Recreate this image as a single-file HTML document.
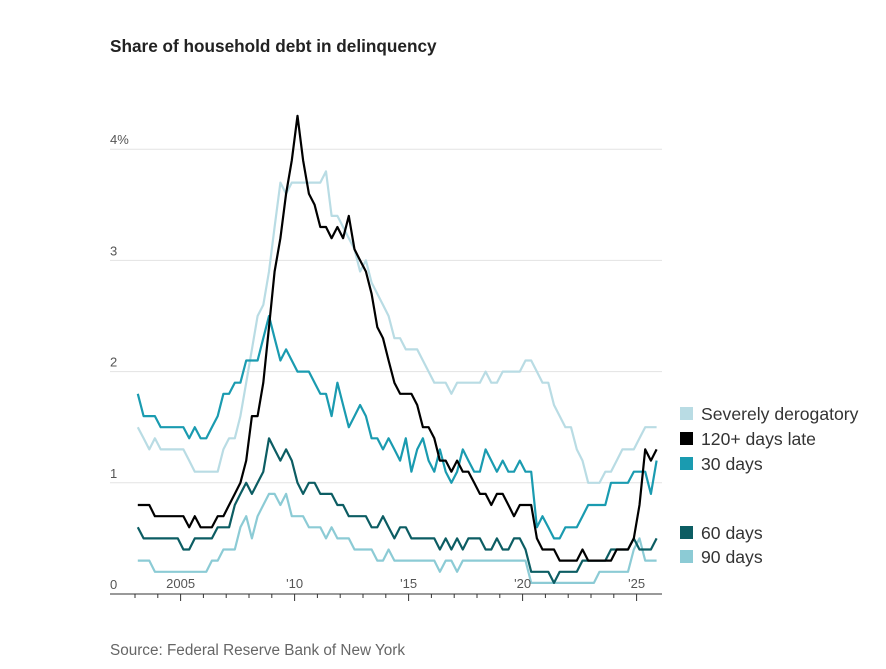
<!DOCTYPE html>
<html><head><meta charset="utf-8"><style>
body{margin:0;background:#fff;font-family:"Liberation Sans",sans-serif}
</style></head><body>
<svg width="886" height="664" xmlns="http://www.w3.org/2000/svg">
<text x="110" y="52" font-size="17.2" font-weight="bold" fill="#222">Share of household debt in delinquency</text>
<g id="grid"></g><g id="series"></g><g id="xaxis"></g>
<g font-size="17.6" fill="#333">
<rect x="680" y="407" width="13" height="13" fill="#b9dce4"/><text x="701" y="420">Severely derogatory</text>
<rect x="680" y="432" width="13" height="13" fill="#000"/><text x="701" y="445">120+ days late</text>
<rect x="680" y="457" width="13" height="13" fill="#1a9bb0"/><text x="701" y="470">30 days</text>
<rect x="680" y="526" width="13" height="13" fill="#0c5d63"/><text x="701" y="539">60 days</text>
<rect x="680" y="550" width="13" height="13" fill="#8ccbd5"/><text x="701" y="563">90 days</text>
</g>
<text x="110" y="655" font-size="15.3" fill="#666">Source: Federal Reserve Bank of New York</text>
</svg>
<script>
const startYear = 2003;
const yTicks = [0,1,2,3,4];
const yTickLabels = ["0","1","2","3","4%"];
const xTickYears = [2005,2010,2015,2020,2025];
const xTickLabels = ["2005","'10","'15","'20","'25"];
const severe = [1.5,1.4,1.3,1.4, 1.3,1.3,1.3,1.3, 1.3,1.2,1.1,1.1, 1.1,1.1,1.1,1.3, 1.4,1.4,1.6,1.9, 2.2,2.5,2.6,2.9, 3.3,3.7,3.6,3.7, 3.7,3.7,3.7,3.7, 3.7,3.8,3.4,3.4, 3.3,3.2,3.1,2.9, 3.0,2.8,2.7,2.6, 2.5,2.3,2.3,2.2, 2.2,2.2,2.1,2.0, 1.9,1.9,1.9,1.8, 1.9,1.9,1.9,1.9, 1.9,2.0,1.9,1.9, 2.0,2.0,2.0,2.0, 2.1,2.1,2.0,1.9, 1.9,1.7,1.6,1.5, 1.5,1.3,1.2,1.0, 1.0,1.0,1.1,1.1, 1.2,1.3,1.3,1.3, 1.4,1.5,1.5,1.5];
const late120 = [.8,.8,.8,.7, .7,.7,.7,.7, .7,.6,.7,.6, .6,.6,.7,.7, .8,.9,1.0,1.2, 1.6,1.6,1.9,2.4, 2.9,3.2,3.6,3.9, 4.3,3.9,3.6,3.5, 3.3,3.3,3.2,3.3, 3.2,3.4,3.1,3.0, 2.9,2.7,2.4,2.3, 2.1,1.9,1.8,1.8, 1.8,1.7,1.5,1.5, 1.4,1.2,1.2,1.1, 1.2,1.1,1.1,1.0, .9,.9,.8,.9, .9,.8,.7,.8, .8,.8,.5,.4, .4,.4,.3,.3, .3,.3,.4,.3, .3,.3,.3,.3, .4,.4,.4,.5, .8,1.3,1.2,1.3];
const days30 = [1.8,1.6,1.6,1.6, 1.5,1.5,1.5,1.5, 1.5,1.4,1.5,1.4, 1.4,1.5,1.6,1.8, 1.8,1.9,1.9,2.1, 2.1,2.1,2.3,2.5, 2.3,2.1,2.2,2.1, 2.0,2.0,2.0,1.9, 1.8,1.8,1.6,1.9, 1.7,1.5,1.6,1.7, 1.6,1.4,1.4,1.3, 1.4,1.3,1.2,1.4, 1.1,1.3,1.4,1.2, 1.1,1.3,1.1,1.0, 1.1,1.3,1.2,1.1, 1.1,1.3,1.2,1.1, 1.2,1.1,1.1,1.2, 1.1,1.1,.6,.7, .6,.5,.5,.6, .6,.6,.7,.8, .8,.8,.8,1.0, 1.0,1.0,1.0,1.1, 1.1,1.1,.9,1.2];
const days60 = [.6,.5,.5,.5, .5,.5,.5,.5, .4,.4,.5,.5, .5,.5,.6,.6, .6,.8,.9,1.0, .9,1.0,1.1,1.4, 1.3,1.2,1.3,1.2, 1.0,.9,1.0,1.0, .9,.9,.9,.8, .8,.7,.7,.7, .7,.6,.6,.7, .6,.5,.6,.6, .5,.5,.5,.5, .5,.4,.5,.4, .5,.4,.5,.5, .5,.4,.4,.5, .4,.4,.5,.5, .4,.2,.2,.2, .2,.1,.2,.2, .2,.2,.3,.3, .3,.3,.3,.4, .4,.4,.4,.5, .4,.4,.4,.5];
const days90 = [.3,.3,.3,.2, .2,.2,.2,.2, .2,.2,.2,.2, .2,.3,.3,.4, .4,.4,.6,.7, .5,.7,.8,.9, .9,.8,.9,.7, .7,.7,.6,.6, .6,.5,.6,.5, .5,.5,.4,.4, .4,.4,.3,.3, .4,.3,.3,.3, .3,.3,.3,.3, .3,.2,.3,.3, .2,.3,.3,.3, .3,.3,.3,.3, .3,.3,.3,.3, .3,.1,.1,.1, .1,.1,.1,.1, .1,.1,.1,.1, .1,.2,.2,.2, .2,.2,.2,.4, .5,.3,.3,.3];
const NS="http://www.w3.org/2000/svg";
const x0=135, pxYear=22.8, y0=594, pxUnit=111.2;
const xs = t => x0 + (t - startYear) * pxYear;
const xq = i => xs(startYear + i/4 + 0.125);
const ys = v => y0 - v * pxUnit;
function mk(tag, attrs, parent){const e=document.createElementNS(NS,tag);for(const k in attrs)e.setAttribute(k,attrs[k]);parent.appendChild(e);return e;}
const grid=document.getElementById('grid');
yTicks.forEach((v,i)=>{
  if(v>0){const l=mk('line',{x1:110,x2:662,y1:ys(v),y2:ys(v),stroke:'#e3e3e3','stroke-width':1},grid);
  
  }
  const t=mk('text',{x:110,y:ys(v)-5,'font-size':13,fill:'#555'},grid);
  t.textContent=yTickLabels[i];
  
  
});
const xa=document.getElementById('xaxis');
const base=mk('line',{x1:110,x2:662,y1:y0,y2:y0,stroke:'#333','stroke-width':1},xa);


for(let yr=startYear;yr<=2025;yr++){
  const major=xTickYears.includes(yr);
  mk('line',{x1:xs(yr),x2:xs(yr),y1:y0,y2:y0+(major?7:4),stroke:'#333','stroke-width':1},xa);
}
xTickYears.forEach((yr,i)=>{
  const t=mk('text',{x:xs(yr),y:y0-6,'font-size':13,fill:'#555','text-anchor':'middle'},xa);
  t.textContent=xTickLabels[i];
  
  
});
const sg=document.getElementById('series');
[[severe,'#b9dce4','severely-derogatory-line'],[days90,'#8ccbd5','90-days-line'],[days60,'#0c5d63','60-days-line'],[days30,'#1a9bb0','30-days-line'],[late120,'#000','120-days-line']].forEach(([arr,c,n])=>{
  const p=mk('path',{d:arr.map((v,i)=>(i?'L':'M')+xq(i).toFixed(1)+','+ys(v).toFixed(1)).join(''),fill:'none',stroke:c,'stroke-width':2.2,'stroke-linejoin':'round'},sg);
  
  
});
</script>
</body></html>
